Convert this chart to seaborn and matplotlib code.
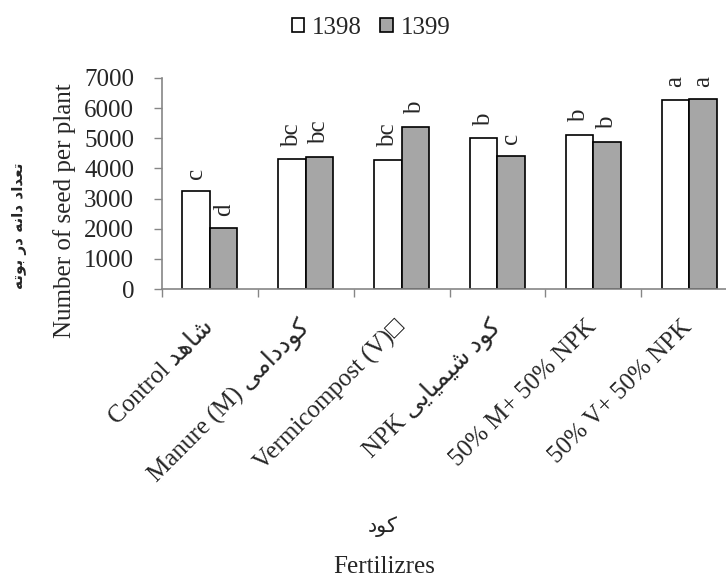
import matplotlib
matplotlib.use("Agg")
import matplotlib.pyplot as plt
import seaborn as sns
import pandas as pd
import numpy as np

# ---------------- data ----------------
categories_en = ["Control", "Manure (M)", "Vermicompost (V)\u25a1", "NPK",
                 "50% M+ 50% NPK", "50% V+ 50% NPK"]
categories_fa = ["شاهد", "کوددامی", "", "کود شیمیایی", "", ""]
years = ["1398", "1399"]
vals_1398 = [3250, 4300, 4280, 5000, 5120, 6280]
vals_1399 = [2010, 4390, 5390, 4410, 4890, 6290]
letters_1398 = ["c", "bc", "bc", "b", "b", "a"]
letters_1399 = ["d", "bc", "b", "c", "b", "a"]
yticks = [0, 1000, 2000, 3000, 4000, 5000, 6000, 7000]
ylabel_en = "Number of seed per plant"
ylabel_fa = "تعداد دانه در بوته"
xlabel_en = "Fertilizres"
xlabel_fa = "کود"

# ---------------- simple Persian shaping (matplotlib has no text shaping) ----------------
FORMS = {
    "ا": ("\uFE8D", "\uFE8E", None, None),
    "ب": ("\uFE8F", "\uFE90", "\uFE91", "\uFE92"),
    "ت": ("\uFE95", "\uFE96", "\uFE97", "\uFE98"),
    "د": ("\uFEA9", "\uFEAA", None, None),
    "ر": ("\uFEAD", "\uFEAE", None, None),
    "ش": ("\uFEB5", "\uFEB6", "\uFEB7", "\uFEB8"),
    "ع": ("\uFEC9", "\uFECA", "\uFECB", "\uFECC"),
    "م": ("\uFEE1", "\uFEE2", "\uFEE3", "\uFEE4"),
    "ن": ("\uFEE5", "\uFEE6", "\uFEE7", "\uFEE8"),
    "ه": ("\uFEE9", "\uFEEA", "\uFEEB", "\uFEEC"),
    "و": ("\uFEED", "\uFEEE", None, None),
    "ک": ("\uFB8E", "\uFB8F", "\uFB90", "\uFB91"),
    "ی": ("\uFBFC", "\uFBFD", "\uFBFE", "\uFBFF"),
}


def shape_fa(s):
    out = []
    for i, ch in enumerate(s):
        if ch not in FORMS:
            out.append(ch)
            continue
        prev = s[i - 1] if i > 0 else None
        nxt = s[i + 1] if i + 1 < len(s) else None
        cp = prev in FORMS and FORMS[prev][2] is not None
        cn = FORMS[ch][2] is not None and nxt in FORMS
        iso, fin, ini, med = FORMS[ch]
        if cp and cn:
            out.append(med)
        elif cp:
            out.append(fin)
        elif cn:
            out.append(ini)
        else:
            out.append(iso)
    return "".join(out)[::-1]


tick_labels = [en + ((" " + shape_fa(fa)) if fa else "")
               for en, fa in zip(categories_en, categories_fa)]

df = pd.DataFrame({
    "Fertilizer": categories_en * 2,
    "Year": [years[0]] * len(categories_en) + [years[1]] * len(categories_en),
    "Seeds": vals_1398 + vals_1399,
})

# ---------------- plot ----------------
sns.set_style("white")
plt.rcParams["font.family"] = ["Liberation Serif", "DejaVu Sans"]

W, H = 726, 581
fig = plt.figure(figsize=(W / 100, H / 100), dpi=100)
ax = fig.add_axes([162 / W, 1 - 289 / H, (737 - 162) / W, (289 - 78) / H])

grey = "#A6A6A6"
sns.barplot(data=df, x="Fertilizer", y="Seeds", hue="Year", order=categories_en,
            hue_order=years, palette={years[0]: "white", years[1]: grey},
            width=0.573, edgecolor="black", linewidth=1.2, saturation=1,
            ax=ax, legend=True)

handles, labels = ax.get_legend_handles_labels()
ax.get_legend().remove()
fig.legend(handles, labels, loc="center", bbox_to_anchor=(371 / W, 1 - 27.5 / H),
           ncol=2, frameon=False, fontsize=18, handlelength=0.5, handleheight=0.5,
           handletextpad=0.3, columnspacing=0.75, borderpad=0, borderaxespad=0)

for cont, lets in zip(ax.containers, [letters_1398, letters_1399]):
    ax.bar_label(cont, labels=lets, padding=9, rotation=90, fontsize=18)

ax.set_ylim(0, 7000)
ax.set_yticks(yticks)
ax.set_xlim(-0.5, len(categories_en) - 0.5)
ax.set_xticks(np.arange(-0.5, len(categories_en), 1.0))
ax.set_xticklabels([])
ax.set_xticks(np.arange(len(categories_en)), minor=True)
ax.set_xticklabels(tick_labels, minor=True, rotation=45, ha="right",
                   rotation_mode="anchor", va="center", fontsize=18)
ax.tick_params(axis="x", which="minor", length=0, pad=25)
ax.tick_params(axis="x", which="major", length=6, width=1, color="#868686",
               direction="out", bottom=True)
ax.tick_params(axis="y", length=6, width=1, color="#868686", direction="out",
               left=True, labelsize=18, pad=14)

for side in ["top", "right"]:
    ax.spines[side].set_visible(False)
for side in ["left", "bottom"]:
    ax.spines[side].set_color("#868686")
    ax.spines[side].set_linewidth(1.2)

ax.set_xlabel("")
ax.set_ylabel("")

fig.text(65 / W, 1 - 211 / H, ylabel_en, rotation=90, ha="center", va="center",
         fontsize=18)
fig.text(20 / W, 1 - 226 / H, shape_fa(ylabel_fa), rotation=90, ha="center",
         va="center", fontsize=11, fontweight="bold", family=["DejaVu Sans"])
fig.text(383 / W, 1 - 527 / H, shape_fa(xlabel_fa), ha="center", va="center",
         fontsize=15, family=["DejaVu Sans"])
fig.text(384 / W, 1 - 567 / H, xlabel_en, ha="center", va="center", fontsize=18)

fig.savefig("out.png", dpi=100)
